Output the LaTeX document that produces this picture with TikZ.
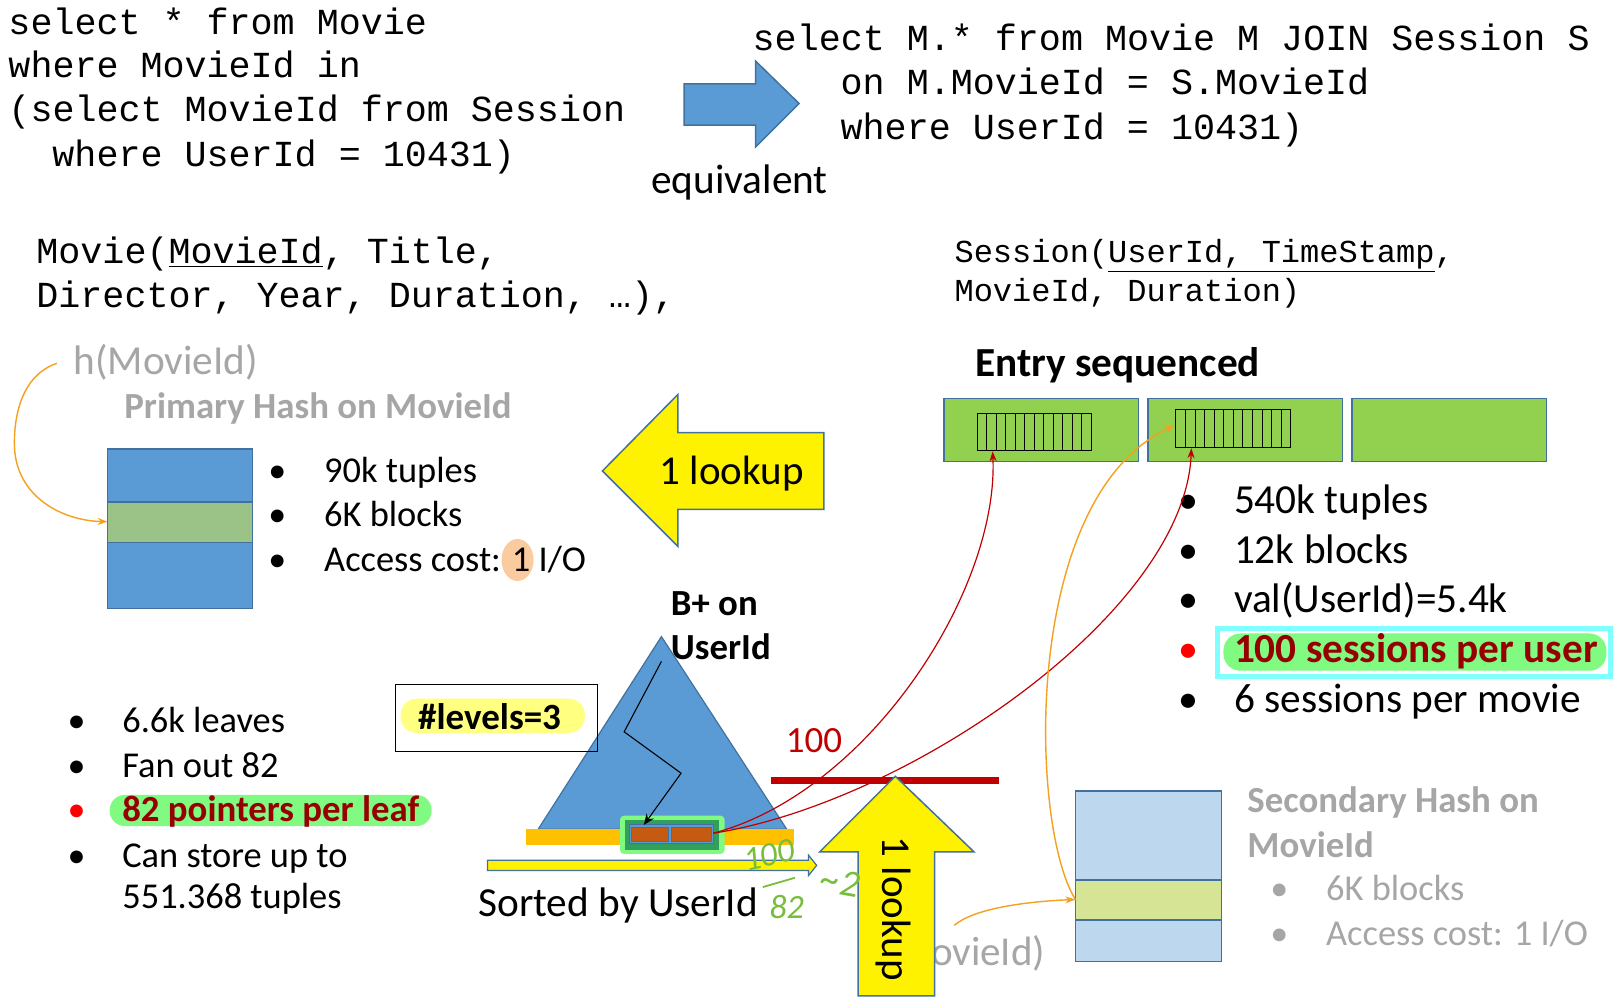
\documentclass[tikz,border=0pt]{standalone}
\usepackage{fontspec}
\setmainfont{Carlito}
\newfontfamily\monofont{Liberation Mono}
\usetikzlibrary{arrows.meta}
\definecolor{bfill}{RGB}{91,155,213}
\definecolor{bline}{RGB}{65,113,156}
\definecolor{pgreen}{RGB}{155,194,135}
\definecolor{egreen}{RGB}{146,208,80}
\definecolor{lblue}{RGB}{189,215,238}
\definecolor{limeband}{RGB}{214,228,150}
\definecolor{gtext}{RGB}{166,166,166}
\definecolor{orc}{RGB}{245,160,30}
\definecolor{dred}{RGB}{150,0,0}
\definecolor{rline}{RGB}{192,0,0}
\definecolor{hlgreen}{RGB}{128,250,128}
\definecolor{hlcyan}{RGB}{128,255,255}
\definecolor{hlyellow}{RGB}{255,255,128}
\definecolor{peach}{RGB}{251,203,160}
\definecolor{obar}{RGB}{255,192,0}
\definecolor{leafbrown}{RGB}{197,90,17}
\definecolor{hwgreen}{RGB}{120,190,60}
\definecolor{fgreen}{RGB}{50,160,90}
\begin{document}
\begin{tikzpicture}[x=1.035pt,y=-1.035pt,
  txt/.style={inner sep=0pt,anchor=base west},
  code/.style={txt,font=\monofont\fontsize{36.7}{44}\selectfont},
  scode/.style={txt,font=\monofont\fontsize{32}{39}\selectfont},
  t36/.style={txt,font=\fontsize{36.4}{43}\selectfont},
  t40/.style={txt,font=\fontsize{41.3}{48}\selectfont},
  b36/.style={txt,font=\fontsize{36.8}{43}\selectfont\bfseries},
  b40/.style={txt,font=\fontsize{41.3}{48}\selectfont\bfseries},
  bul36/.style={inner sep=0pt,anchor=base,font=\fontsize{36}{43}\selectfont},
  bul40/.style={inner sep=0pt,anchor=base,font=\fontsize{40}{48}\selectfont},
  boxline/.style={draw=bline,line width=1.5pt},
  redc/.style={draw=rline,line width=1.2pt,-{Stealth[length=10pt,width=7pt]}},
  orcurve/.style={draw=orc,line width=1.4pt,-{Stealth[length=10pt,width=7pt]}},
  hw/.style={inner sep=0pt,text=hwgreen,font=\fontsize{34}{38}\selectfont\itshape}
]
\useasboundingbox (0,0) rectangle (1568,965);
\fill[white] (0,0) rectangle (1568,965);

% ---------- SQL code ----------
\node[code] (q1a) at (8,33) {select * from Movie};
\node[code] (q1b) at (8,74.5) {where MovieId in};
\node[code] (q1c) at (8,117.5) {(select MovieId from Session};
\node[code] (q1d) at (50.5,161) {where UserId = 10431)};

\node[code] (q2a) at (727,49) {select M.* from Movie M JOIN Session S};
\node[code] (q2b) at (812,91) {on M.MovieId = S.MovieId};
\node[code] (q2c) at (812,135) {where UserId = 10431)};

% blue arrow
\filldraw[fill=bfill,boxline] (661,81) -- (730,81) -- (730,59) -- (772,100) -- (730,142) -- (730,121) -- (661,121) -- cycle;
\node[t40] (equiv) at (629,187) {equivalent};

% schemas
\node[code] (ms1) at (35,255) {Movie(\underline{MovieId}, Title,};
\node[code] (ms2) at (35,297) {Director, Year, Duration, …),};
\node[scode] (ss1) at (922,254) {Session(\underline{UserId, TimeStamp},};
\node[scode] (ss2) at (922,291) {MovieId, Duration)};

% ---------- primary hash ----------
\node[t40,text=gtext] (hm1) at (71,362) {h(MovieId)};
\node[b36,text=gtext] (phash) at (120,404) {Primary Hash on MovieId};
\filldraw[fill=bfill,boxline] (104,434) rectangle (244,588);
\filldraw[fill=pgreen,boxline] (104,485) rectangle (244,524);
\coordinate (pbin) at (104,504);
\coordinate (hmstart) at (55,351);
\draw[orcurve] (hmstart) .. controls (22,362) and (13,400) .. (14,432) .. controls (16,480) and (60,503) .. (pbin);

\node[bul36] (pb1) at (268,466) {•};
\node[bul36] (pb2) at (268,509) {•};
\node[bul36] (pb3) at (268,552) {•};
\node[t36] (pt1) at (313,466) {90k tuples};
\node[t36] (pt2) at (313,509) {6K blocks};
\fill[peach] (500,541) ellipse [x radius=16pt,y radius=21pt];
\node[t36] (pt3) at (313,552) {Access cost: 1 I/O};

% left yellow arrow
\filldraw[fill=yellow,boxline] (796,418) -- (655,418) -- (655,381) -- (582,455) -- (655,528) -- (655,492) -- (796,492) -- cycle;
\node[inner sep=0pt,anchor=base,font=\fontsize{41}{48}\selectfont] (look1) at (707,468) {1 lookup};

% ---------- entry sequenced ----------
\node[b40] (entry) at (942,364) {Entry sequenced};
\filldraw[fill=egreen,boxline] (912,385) rectangle (1100,446);
\filldraw[fill=egreen,boxline] (1109,385) rectangle (1297,446);
\filldraw[fill=egreen,boxline] (1306,385) rectangle (1494,446);
\draw[line width=0.8pt] (944,399) rectangle (1054,435);
\foreach \i in {1,...,11} \draw[line width=0.8pt] ({944+\i*110/12},399) -- ({944+\i*110/12},435);
\draw[line width=0.8pt] (1136,396) rectangle (1247,432);
\foreach \i in {1,...,11} \draw[line width=0.8pt] ({1136+\i*111/12},396) -- ({1136+\i*111/12},432);
\coordinate (g1in) at (959,436);
\coordinate (g2in) at (1151,433);
\coordinate (g2left) at (1135,411);

\node[bul40] (eb1) at (1148,496) {•};
\node[bul40] (eb2) at (1148,544) {•};
\node[bul40] (eb3) at (1148,592) {•};
\node[bul40,text=red] (eb4) at (1148,640) {•};
\node[bul40] (eb5) at (1148,688) {•};
\node[t40] (et1) at (1192,496) {540k tuples};
\node[t40] (et2) at (1192,544) {12k blocks};
\node[t40] (et3) at (1192,592) {val(UserId)=5.4k};
\draw[hlcyan,line width=5pt] (1176,607) rectangle (1556,654);
\fill[hlgreen,rounded corners=17pt] (1182,612) rectangle (1552,648);
\node[b40,text=dred] (et4) at (1192,640) {100 sessions per user};
\node[t40] (et5) at (1192,688) {6 sessions per movie};

% ---------- B+ tree ----------
\node[b36] (bp1) at (648,595) {B+ on};
\node[b36] (bp2) at (648,637) {UserId};
\filldraw[fill=bfill,draw=bline,line width=1.2pt] (639,615) -- (760,801) -- (520,801) -- cycle;
\fill[obar] (508,801) rectangle (767,816);
\fill[hlgreen,rounded corners=4pt] (599,788) rectangle (700,825);
\fill[fgreen] (604,792) rectangle (695,821);
\filldraw[fill=bfill,draw=bline,line width=1pt] (608,797) rectangle (689,815);
\filldraw[fill=leafbrown,draw=bline,line width=0.8pt] (610,799) rectangle (646,813);
\filldraw[fill=leafbrown,draw=bline,line width=0.8pt] (649,799) rectangle (687,813);
\coordinate (leafR) at (689,805);
\coordinate (zz0) at (639,639);
\coordinate (zz1) at (603,707);
\coordinate (zz2) at (658,747);
\coordinate (leafT) at (622,797);
\draw[line width=1.1pt,-{Stealth[length=11pt,width=9pt]}] (zz0) -- (zz1) -- (zz2) -- (leafT);

\draw[line width=1.2pt] (382,661) rectangle (577,726);
\fill[hlyellow,rounded corners=16pt] (387,675) rectangle (565,708);
\node[inner sep=0pt,anchor=base,font=\fontsize{37}{43}\selectfont\bfseries] (levels) at (473,705) {\#levels=3};

% yellow horizontal arrow
\filldraw[fill=yellow,draw=bline,line width=1.2pt] (471,831) -- (781,831) -- (781,826) -- (789,836) -- (781,846) -- (781,841) -- (471,841) -- cycle;
\node[t40] (sorted) at (462,885) {Sorted by UserId};

% left bottom bullets
\node[bul36] (lb1) at (74,708) {•};
\node[bul36] (lb2) at (74,751) {•};
\node[bul36,text=red] (lb3) at (74,794) {•};
\node[bul36] (lb4) at (74,838) {•};
\node[t36] (lt1) at (118,708) {6.6k leaves};
\node[t36] (lt2) at (118,751) {Fan out 82};
\fill[hlgreen,rounded corners=15pt] (106,768) rectangle (417,798);
\node[b36,text=dred] (lt3) at (118,794) {82 pointers per leaf};
\node[t36] (lt4) at (118,838) {Can store up to};
\node[t36] (lt5) at (118,878) {551.368 tuples};

% ---------- 100 / red line / up arrow ----------
\node[txt,text=rline,font=\fontsize{37}{44}\selectfont] (hundred) at (759,727) {100};
\draw[rline,line width=7pt] (745,754) -- (965,754);
\node[inner sep=0pt,anchor=base east,text=gtext,font=\fontsize{41}{48}\selectfont] (hm2) at (1010,933) {h(MovieId)};
\filldraw[fill=yellow,boxline] (829,962) -- (829,823) -- (792,823) -- (865,750) -- (941,823) -- (903,823) -- (903,962) -- cycle;
\node[inner sep=0pt,rotate=-90,font=\fontsize{41}{48}\selectfont] (look2) at (863,878) {1 lookup};

% handwriting (on top)
\node[hw,rotate=12] (hw100) at (743,826) {100};
\draw[hwgreen,line width=1.8pt] (737,857) -- (768,848);
\node[hw] (hw82) at (760,876) {82};
\node[hw,rotate=-10,font=\fontsize{38}{40}\selectfont\itshape] (hw2) at (812,852) {\textasciitilde2};

% ---------- secondary hash ----------
\filldraw[fill=lblue,boxline] (1039,764) rectangle (1180,929);
\filldraw[fill=limeband,boxline] (1039,850) rectangle (1180,889);
\coordinate (sbin) at (1039,869);
\node[b36,text=gtext] (sh1) at (1205,785) {Secondary Hash on};
\node[b36,text=gtext] (sh2) at (1205,828) {MovieId};
\node[bul36,text=gtext] (sb1) at (1236,870) {•};
\node[bul36,text=gtext] (sb2) at (1236,913) {•};
\node[t36,text=gtext] (st1) at (1281,870) {6K blocks};
\node[t36,text=gtext] (st2) at (1281,913) {Access cost: 1 I/O};

% ---------- connectors ----------
\draw[redc] (leafR) .. controls (840,765) and (965,570) .. (g1in);
\draw[redc] (leafR) .. controls (880,775) and (1145,590) .. (g2in);
\coordinate (hm2arc) at (922,894);
\draw[orcurve] (hm2arc) .. controls (940,878) and (990,871) .. (sbin);
\draw[orcurve] (sbin) .. controls (995,800) and (985,480) .. (g2left);
\end{tikzpicture}
\end{document}
